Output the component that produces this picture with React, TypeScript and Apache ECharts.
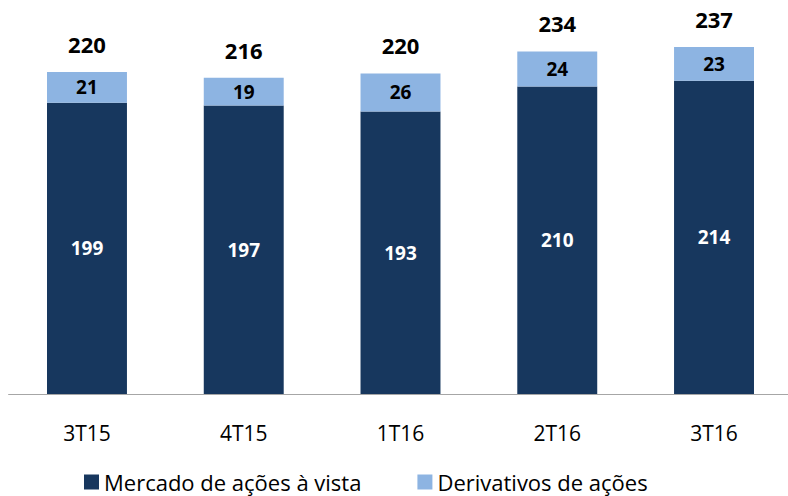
import React, { useEffect, useRef } from "react";
import * as echarts from "echarts";

const categories = ["3T15", "4T15", "1T16", "2T16", "3T16"];
const mercadoVista = [199, 197, 193, 210, 214];
const derivativos = [21, 19, 26, 24, 23];
const totals = [220, 216, 220, 234, 237];

const FONT = "'Open Sans', sans-serif";

export default function App() {
  const ref = useRef<HTMLDivElement>(null);
  useEffect(() => {
    if (!ref.current) return;
    const chart = echarts.init(ref.current, null, { renderer: "svg" });
    chart.setOption({
      animation: false,
      textStyle: { fontFamily: FONT },
      legend: {
        data: ["Mercado de ações à vista", "Derivativos de ações"],
        left: 84,
        top: 470,
        padding: 0,
        itemWidth: 15,
        itemHeight: 15,
        itemGap: 56,
        icon: "rect",
        textStyle: { fontSize: 22, lineHeight: 24, color: "#000", fontFamily: FONT },
      },
      grid: { left: 8.6, width: 783.8, top: 28, bottom: 102 },
      xAxis: {
        type: "category",
        data: categories,
        axisLine: { lineStyle: { color: "#A6A6A6", width: 1 } },
        axisTick: { show: false },
        axisLabel: { margin: 28, fontSize: 21, color: "#000", fontFamily: FONT },
      },
      yAxis: {
        type: "value",
        min: 0,
        max: 250,
        show: false,
        splitLine: { show: false },
      },
      series: [
        {
          name: "Mercado de ações à vista",
          type: "bar",
          stack: "a",
          barWidth: "51%",
          data: mercadoVista,
          itemStyle: { color: "#17375E" },
          label: {
            show: true,
            position: "inside",
            color: "#fff",
            fontWeight: "bold",
            fontSize: 19,
            fontFamily: FONT,
          },
        },
        {
          name: "Derivativos de ações",
          type: "bar",
          stack: "a",
          data: derivativos,
          itemStyle: { color: "#8DB4E2" },
          label: {
            show: true,
            position: "inside",
            color: "#000",
            fontWeight: "bold",
            fontSize: 19,
            fontFamily: FONT,
          },
        },
        {
          name: "Total",
          type: "bar",
          stack: "a",
          data: totals.map(() => 0),
          itemStyle: { color: "transparent" },
          label: {
            show: true,
            position: "top",
            distance: 17,
            color: "#000",
            fontWeight: "bold",
            fontSize: 22,
            fontFamily: FONT,
            formatter: (p: any) => String(totals[p.dataIndex]),
          },
        },
      ],
    });
    return () => chart.dispose();
  }, []);
  return (
    <div style={{ position: "fixed", left: 0, top: 0, width: 788, height: 496, overflow: "hidden", background: "#fff" }}>
      <div ref={ref} style={{ width: 800, height: 496 }} />
    </div>
  );
}
